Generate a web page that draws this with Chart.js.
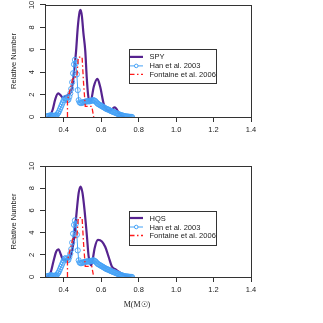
<!DOCTYPE html>
<html><head><meta charset="utf-8">
<script src="https://cdn.jsdelivr.net/npm/chart.js@4/dist/chart.umd.min.js"></script>
<style>
html,body{margin:0;padding:0;background:#fff;}
canvas{position:absolute;left:0;}
</style></head>
<body>
<canvas id="c1" width="323" height="160" style="top:0;width:323px;height:160px"></canvas>
<canvas id="c2" width="323" height="163" style="top:160px;width:323px;height:163px"></canvas>
<script>
// ---------- data ----------
const xTicks = [0.4, 0.6, 0.8, 1.0, 1.2, 1.4];
const yTicks = [0, 2, 4, 6, 8, 10];
const xTitle = 'M(M\u2609)';
const yTitle = 'Relative Number';

const spyLabel = 'SPY';
const spyX = [0.31,0.325,0.34,0.355,0.37,0.38,0.395,0.41,0.425,0.437,0.448,0.458,0.466,0.475,0.485,0.49,0.497,0.505,0.515,0.523,0.53,0.538,0.548,0.56,0.58,0.595,0.613,0.625,0.64,0.655,0.67,0.68,0.695,0.71,0.725];
const spyY = [0,0.1,0.6,1.6,2.1,2.0,1.75,1.85,2.0,2.2,3.0,4.5,5.9,8.0,9.4,9.55,9.0,7.5,5.9,3.5,2.0,1.35,1.6,2.67,3.4,2.67,1.2,0.75,0.55,0.65,0.85,0.75,0.35,0.1,0];

const hqsLabel = 'HQS';
const hqsX = [0.30,0.315,0.33,0.345,0.36,0.372,0.385,0.397,0.41,0.423,0.441,0.453,0.462,0.47,0.48,0.49,0.50,0.511,0.524,0.533,0.546,0.555,0.565,0.583,0.604,0.622,0.64,0.657,0.675,0.692,0.71,0.73,0.755];
const hqsY = [0,0.05,0.4,1.4,2.3,2.5,2.0,1.55,1.55,1.6,2.15,3.2,4.6,6.05,7.6,8.15,7.6,6.05,3.65,1.85,1.05,1.6,2.6,3.35,3.2,2.7,1.8,0.95,0.7,0.5,0.3,0.12,0];

const hanLabel = 'Han et al. 2003';
const hanX = [0.310,0.315,0.320,0.325,0.330,0.335,0.340,0.345,0.350,0.355,0.360,0.365,0.370,0.375,0.380,0.385,0.390,0.395,0.400,0.405,0.410,0.415,0.420,0.425,0.430,0.435,0.440,0.445,0.450,0.455,0.460,0.465,0.470,0.475,0.480,0.485,0.490,0.495,0.500,0.505,0.510,0.515,0.520,0.525,0.530,0.535,0.540,0.545,0.550,0.555,0.560,0.565,0.570,0.575,0.580,0.585,0.590,0.595,0.600,0.605,0.610,0.615,0.620,0.625,0.630,0.635,0.640,0.645,0.650,0.655,0.660,0.665,0.670,0.675,0.680,0.685,0.690,0.695,0.700,0.705,0.710,0.715,0.720,0.725,0.730,0.735,0.740,0.745,0.750,0.755,0.760,0.765];
const hanY = [0.05,0.08,0.10,0.12,0.15,0.15,0.12,0.10,0.10,0.12,0.15,0.22,0.35,0.5,0.7,0.9,1.1,1.3,1.5,1.65,1.7,1.6,1.5,1.55,1.8,2.1,2.5,3.1,3.9,4.7,5.1,4.8,3.8,2.4,1.5,1.3,1.25,1.25,1.3,1.3,1.35,1.35,1.4,1.4,1.4,1.4,1.4,1.45,1.45,1.5,1.5,1.45,1.4,1.3,1.2,1.15,1.1,1.05,1.0,0.95,0.9,0.85,0.8,0.75,0.7,0.68,0.65,0.6,0.55,0.52,0.48,0.45,0.42,0.38,0.35,0.3,0.27,0.24,0.2,0.18,0.15,0.12,0.1,0.08,0.06,0.05,0.04,0.03,0.02,0.01,0.01,0.0];

const fonLabel = 'Fontaine et al. 2006';
const fonX = [0.42,0.42,0.45,0.47,0.478,0.498,0.506,0.515,0.55,0.56];
const fonY = [0,1.5,3.56,3.56,5.35,5.35,3.0,0.95,0.95,0];

// ---------- styles ----------
const PURPLE = '#56238f';
const BLUE = '#45a2f6';
const RED = '#ff1a1a';
const AXIS = '#333333';
const TXT = '#222222';
const FONT = '"Liberation Sans", Arial, sans-serif';

const pts = (xs, ys) => xs.map((x, i) => ({x: x, y: ys[i]}));

const boxAndText = {
  id: 'boxAndText',
  afterDraw(chart, args, opts) {
    const ctx = chart.ctx;
    const ca = chart.chartArea;
    const ys = chart.scales.y;
    ctx.save();
    ctx.strokeStyle = AXIS; ctx.lineWidth = 1;
    ctx.strokeRect(Math.round(ca.left) + 0.5, Math.round(ca.top) + 0.5, Math.round(ca.right - ca.left), Math.round(ca.bottom - ca.top));
    ctx.fillStyle = TXT;
    ctx.font = '7.5px ' + FONT;
    ctx.textAlign = 'center'; ctx.textBaseline = 'middle';
    yTicks.forEach(v => {
      const py = ys.getPixelForValue(v);
      ctx.save(); ctx.translate(32, py); ctx.rotate(-Math.PI / 2);
      ctx.fillText(String(v), 0, 0); ctx.restore();
    });
    ctx.save(); ctx.translate(14, (ca.top + ca.bottom) / 2); ctx.rotate(-Math.PI / 2);
    ctx.font = '7.5px ' + FONT; ctx.fillText(yTitle, 0, 0); ctx.restore();
    if (opts.showXTitle) {
      ctx.font = '8px "Liberation Serif", "DejaVu Serif", serif';
      ctx.fillText(xTitle, 137, ca.bottom + 28);
    }
    const lx = ca.left + 83.5, ly = ca.top + 44.5, lw = 86.5, lh = 33.5;
    ctx.fillStyle = '#fff';
    ctx.fillRect(lx, ly, lw, lh);
    const ds = chart.data.datasets;
    const rows = [7.5, 16.5, 25];
    ctx.textAlign = 'left';
    ctx.font = '7.5px ' + FONT;
    ds.forEach((d, i) => {
      const y = ly + rows[i];
      ctx.save();
      ctx.strokeStyle = d.borderColor;
      ctx.lineWidth = d.borderWidth;
      ctx.setLineDash(d.borderDash || []);
      ctx.beginPath(); ctx.moveTo(lx + 1, y); ctx.lineTo(lx + 14.5, y); ctx.stroke();
      ctx.setLineDash([]);
      if (d.pointRadius > 0) {
        ctx.beginPath(); ctx.arc(lx + 7.75, y, 1.8, 0, Math.PI * 2);
        ctx.fillStyle = '#fff'; ctx.fill();
        ctx.lineWidth = 1; ctx.strokeStyle = d.pointBorderColor; ctx.stroke();
      }
      ctx.restore();
      ctx.fillStyle = TXT;
      ctx.fillText(d.label, lx + 21, y + 0.5);
    });
    ctx.strokeStyle = AXIS; ctx.lineWidth = 1;
    ctx.strokeRect(Math.round(lx) + 0.5, Math.round(ly) + 0.5, Math.round(lw), Math.round(lh));
    ctx.restore();
  }
};

function makeChart(id, mainLabel, mX, mY, padTop, xAxisH, showXTitle) {
  new Chart(document.getElementById(id), {
    type: 'line',
    data: {
      datasets: [
        {label: mainLabel, data: pts(mX, mY), borderColor: PURPLE, borderWidth: 2.2,
         pointRadius: 0, cubicInterpolationMode: 'monotone', fill: false, order: 3},
        {label: hanLabel, data: pts(hanX, hanY), borderColor: BLUE, borderWidth: 1,
         pointRadius: 2.6, pointBorderColor: BLUE, pointBackgroundColor: 'rgba(255,255,255,0)',
         pointBorderWidth: 0.9, tension: 0, fill: false, order: 2},
        {label: fonLabel, data: pts(fonX, fonY), borderColor: RED, borderWidth: 1.3,
         borderDash: [5, 2.5, 1.5, 2.5], pointRadius: 0, tension: 0, fill: false, order: 1}
      ]
    },
    options: {
      responsive: false, animation: false, devicePixelRatio: 1,
      layout: {padding: {top: padTop, right: 72, left: 0, bottom: 0}},
      plugins: {legend: {display: false}, tooltip: {enabled: false}, boxAndText: {showXTitle: showXTitle}},
      scales: {
        x: {
          type: 'linear', min: 0.3, max: 1.4,
          afterBuildTicks: s => { s.ticks = xTicks.map(v => ({value: v})); },
          afterFit: s => { s.height = xAxisH; },
          border: {display: true, color: AXIS, width: 1},
          grid: {drawOnChartArea: false, drawTicks: true, tickLength: 5, tickColor: AXIS},
          ticks: {color: TXT, font: {family: FONT, size: 7.5}, padding: 3, maxRotation: 0,
                  callback: v => v.toFixed(1)}
        },
        y: {
          type: 'linear', min: 0, max: 10,
          afterBuildTicks: s => { s.ticks = yTicks.map(v => ({value: v})); },
          afterFit: s => { s.width = 45; },
          border: {display: true, color: AXIS, width: 1},
          grid: {drawOnChartArea: false, drawTicks: true, tickLength: 5, tickColor: AXIS},
          ticks: {display: false}
        }
      }
    },
    plugins: [boxAndText]
  });
}

makeChart('c1', spyLabel, spyX, spyY, 4, 43, false);
makeChart('c2', hqsLabel, hqsX, hqsY, 6, 46, true);
</script>
</body></html>
